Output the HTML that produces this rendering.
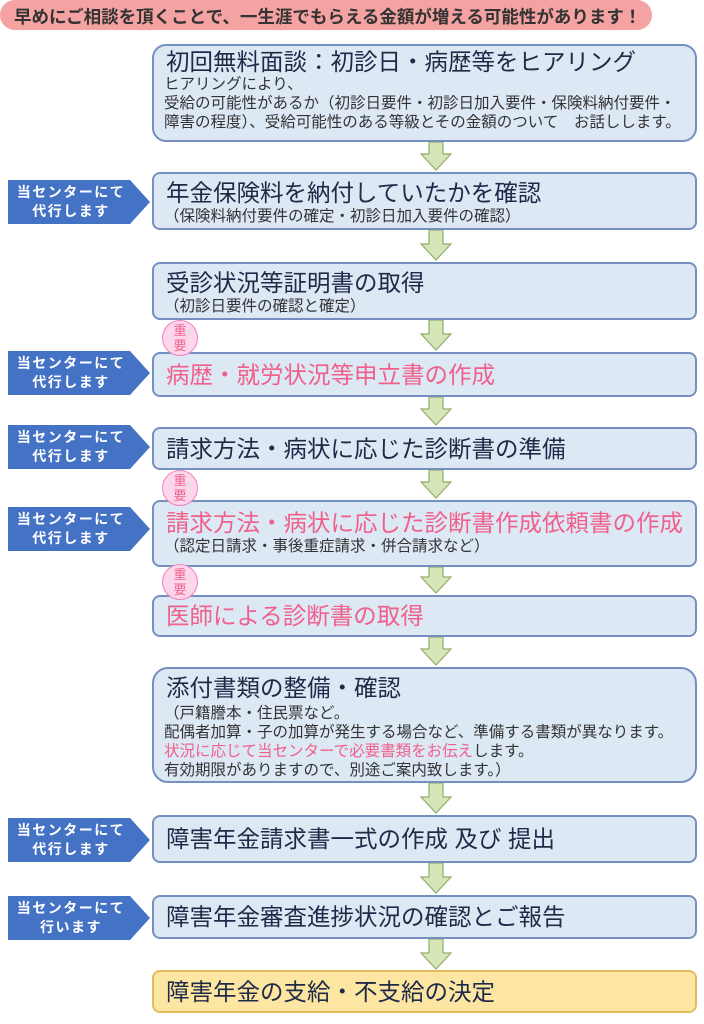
<!DOCTYPE html>
<html><head><meta charset="utf-8"><style>
body{margin:0;width:704px;height:1024px;background:#fff;position:relative;overflow:hidden;font-family:"Liberation Sans","Noto Sans CJK JP",sans-serif;color:#1f2a48}
.a{position:absolute}
.box{position:absolute;left:152px;width:545px;background:#dde8f5;border:2px solid #7590c0;border-radius:8px;box-sizing:border-box}
.t{position:absolute;left:12px;font-size:23.5px;white-space:nowrap;line-height:28px}
.s{position:absolute;left:10px;font-size:15.5px;white-space:nowrap;color:#333;line-height:19px}
.pink{color:#f0608a}
.tag{position:absolute;left:8px;width:142px;height:44px;background:#4472c4;clip-path:polygon(0 0,122px 0,142px 50%,122px 100%,0 100%);color:#fff;font-size:14px;font-weight:bold;text-align:center;line-height:19px;padding-top:3px;box-sizing:border-box;padding-right:16px;letter-spacing:1.5px}
.badge{position:absolute;left:162px;width:36px;height:36px;border-radius:50%;background:#fcd6ea;border:1.5px solid #f080c0;box-sizing:border-box;color:#f06090;font-size:13px;text-align:center;line-height:15px;padding-top:2px}
</style></head><body>
<div class="a" style="left:0;top:0;width:652px;height:30px;background:#f4a2a2;border-radius:15px"></div>
<div class="a" style="left:14px;top:4px;font-size:17.5px;font-weight:bold;color:#333;white-space:nowrap">早めにご相談を頂くことで、一生涯でもらえる金額が増える可能性があります！</div>

<svg class="a" style="left:0;top:0" width="704" height="1024">
<g fill="#d6e6b8" stroke="#8fae6a" stroke-width="1.2">
<path d="M429 142h14v12h8l-15 16-15-16h8z"/>
<path d="M429 230h14v14h8l-15 16-15-16h8z"/>
<path d="M429 320h14v14h8l-15 16-15-16h8z"/>
<path d="M429 397h14v12h8l-15 16-15-16h8z"/>
<path d="M429 470h14v12h8l-15 16-15-16h8z"/>
<path d="M429 567h14v10h8l-15 16-15-16h8z"/>
<path d="M429 637h14v12h8l-15 16-15-16h8z"/>
<path d="M429 783h14v14h8l-15 16-15-16h8z"/>
<path d="M429 863h14v14h8l-15 16-15-16h8z"/>
<path d="M429 939h14v14h8l-15 16-15-16h8z"/>
</g></svg>

<div class="box" style="top:44px;height:98px;border-radius:14px">
<div class="t" style="top:2px">初回無料面談：初診日・病歴等をヒアリング</div>
<div class="s" style="top:29px">ヒアリングにより、</div>
<div class="s" style="top:48px">受給の可能性があるか（初診日要件・初診日加入要件・保険料納付要件・</div>
<div class="s" style="top:67px">障害の程度）、受給可能性のある等級とその金額のついて　お話しします。</div>
</div>

<div class="tag" style="top:180px">当センターにて<br>代行します</div>
<div class="box" style="top:172px;height:58px">
<div class="t" style="top:5px">年金保険料を納付していたかを確認</div>
<div class="s" style="top:33px">（保険料納付要件の確定・初診日加入要件の確認）</div></div>

<div class="box" style="top:262px;height:58px">
<div class="t" style="top:5px">受診状況等証明書の取得</div>
<div class="s" style="top:33px">（初診日要件の確認と確定）</div></div>

<div class="tag" style="top:351px">当センターにて<br>代行します</div>
<div class="box" style="top:352px;height:45px">
<div class="t pink" style="top:7px">病歴・就労状況等申立書の作成</div></div>
<div class="badge" style="top:320px">重<br>要</div>

<div class="tag" style="top:425px">当センターにて<br>代行します</div>
<div class="box" style="top:427px;height:43px">
<div class="t" style="top:6px">請求方法・病状に応じた診断書の準備</div></div>

<div class="tag" style="top:507px">当センターにて<br>代行します</div>
<div class="box" style="top:500px;height:67px">
<div class="t pink" style="top:7px">請求方法・病状に応じた診断書作成依頼書の作成</div>
<div class="s" style="top:35px">（認定日請求・事後重症請求・併合請求など）</div></div>
<div class="badge" style="top:470px">重<br>要</div>

<div class="box" style="top:595px;height:42px">
<div class="t pink" style="top:5px">医師による診断書の取得</div></div>
<div class="badge" style="top:564px">重<br>要</div>

<div class="box" style="top:667px;height:116px;border-radius:16px">
<div class="t" style="top:5px">添付書類の整備・確認</div>
<div class="s" style="top:35px">（戸籍謄本・住民票など。</div>
<div class="s" style="top:54px">配偶者加算・子の加算が発生する場合など、準備する書類が異なります。</div>
<div class="s" style="top:73px"><span class="pink">状況に応じて当センターで必要書類をお伝え</span>します。</div>
<div class="s" style="top:92px">有効期限がありますので、別途ご案内致します。）</div></div>

<div class="tag" style="top:818px">当センターにて<br>代行します</div>
<div class="box" style="top:815px;height:48px">
<div class="t" style="top:8px">障害年金請求書一式の作成 及び 提出</div></div>

<div class="tag" style="top:896px">当センターにて<br>行います</div>
<div class="box" style="top:895px;height:44px">
<div class="t" style="top:6px">障害年金審査進捗状況の確認とご報告</div></div>

<div class="box" style="top:970px;height:43px;background:#fde6a2;border-color:#e2bc5c">
<div class="t" style="top:6px">障害年金の支給・不支給の決定</div></div>
</body></html>
